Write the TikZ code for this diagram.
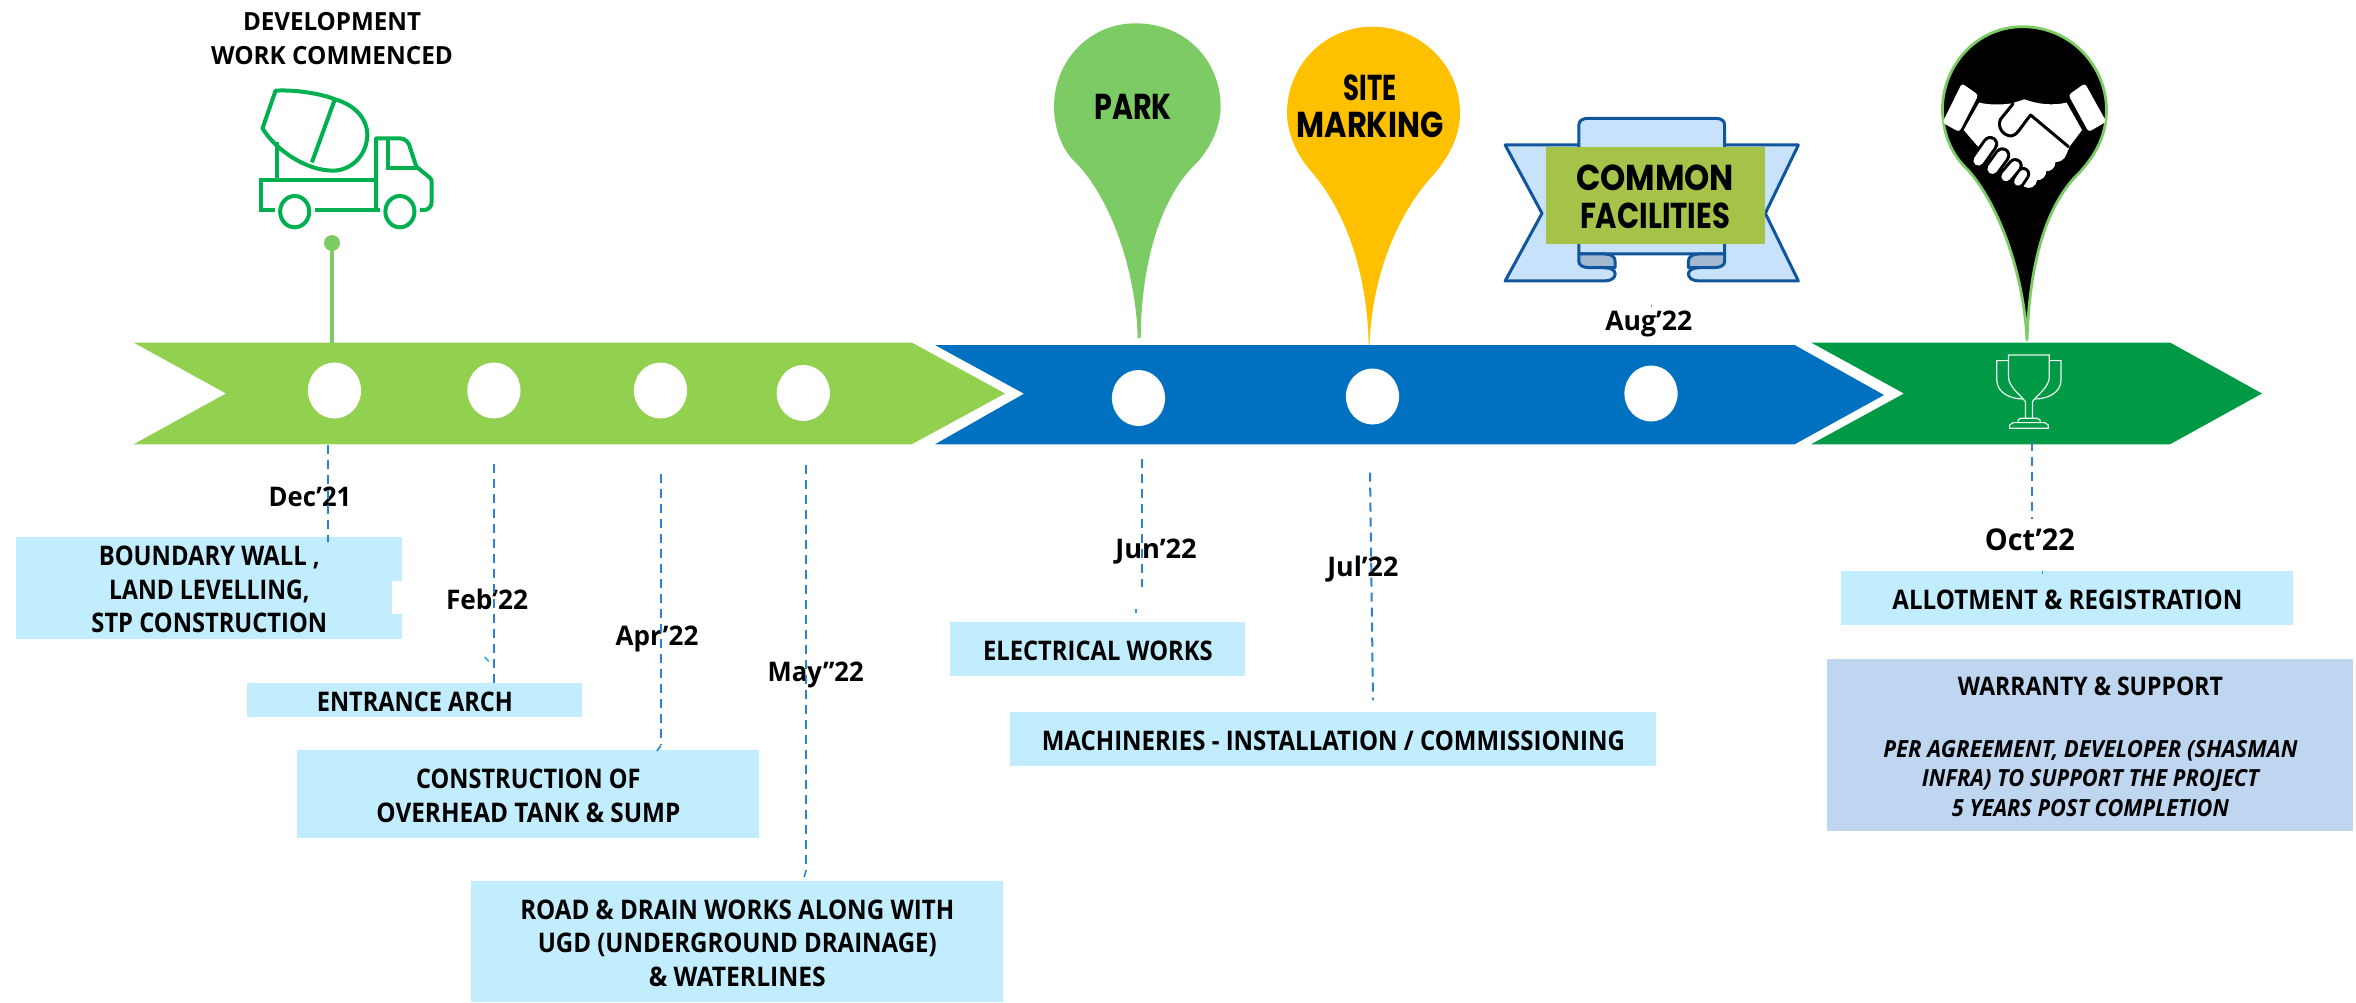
\documentclass[tikz,border=0pt]{standalone}
\usepackage{fontspec}
\setmainfont{Open Sans}
\newfontfamily\geofont{Poppins}
\usetikzlibrary{shapes.geometric}
\definecolor{arrowlime}{HTML}{92D050}
\definecolor{arrowblue}{HTML}{0070C0}
\definecolor{arrowgreen}{HTML}{009A46}
\definecolor{pingreen}{HTML}{7CCB65}
\definecolor{pinamber}{HTML}{FFC000}
\definecolor{truckgreen}{HTML}{00B050}
\definecolor{dashblue}{HTML}{2F80D2}
\definecolor{boxcyan}{HTML}{C1EDFE}
\definecolor{boxblue}{HTML}{BFD6F0}
\definecolor{ribbonline}{HTML}{11559C}
\definecolor{ribbonfill}{HTML}{C9E2FB}
\definecolor{ribbongrey}{HTML}{A3B9D1}
\definecolor{olive}{HTML}{A5C249}
\newsavebox\fitbox
\newcommand{\fitw}[2]{\sbox\fitbox{#2}\pgfmathsetmacro\fitscale{#1*0.5/\the\wd\fitbox}\raisebox{-0.7pt}[\height][\depth]{\scalebox{\fitscale}[1]{\usebox\fitbox}}}
\tikzset{
  hole/.style={ellipse,fill=white,inner sep=0pt,minimum width=26.6pt,minimum height=28pt},
  milestone/.style={font=\fontsize{13.5}{16}\selectfont\bfseries,inner sep=0pt,text=black},
  cyanbox/.style={fill=boxcyan,inner sep=0pt,align=center,anchor=north west,text=black,font=\fontsize{13.5}{16.75}\selectfont\bfseries},
  head/.style={font=\fontsize{12.5}{17}\selectfont\bfseries,align=center,inner sep=0pt,text=black},
  geo/.style={font=\geofont\fontsize{18}{18.7}\selectfont\bfseries,align=center,inner sep=0pt,text=black},
  dashline/.style={draw=dashblue,line width=1pt,dash pattern=on 4.5pt off 3pt},
  truckline/.style={draw=truckgreen,line width=2pt},
  ribbon/.style={draw=ribbonline,line width=1.5pt,line join=round},
}
\begin{document}
\begin{tikzpicture}[x=0.5pt,y=-0.5pt]
\useasboundingbox (0,0) rectangle (2356,1002);
% arrows
\fill[arrowlime] (133.5,342.5) -- (911.7,342.5) -- (1005,393.5) -- (911.7,444.3) -- (133.5,444.3) -- (226,393.5) -- cycle;
\fill[arrowblue] (935,345) -- (1794.6,345) -- (1884,395) -- (1794.6,444.3) -- (935,444.3) -- (1024,393.7) -- cycle;
\fill[arrowgreen] (1811,342.5) -- (2170,342.5) -- (2262,393.5) -- (2170,444.3) -- (1811,444.3) -- (1904,393.5) -- cycle;
% holes
\node[hole] (c1) at (334.5,390.5) {};
\node[hole] (c2) at (493.9,390.5) {};
\node[hole] (c3) at (660.5,390.5) {};
\node[hole] (c4) at (803.3,393) {};
\node[hole] (c5) at (1138.5,398) {};
\node[hole] (c6) at (1372.5,396.5) {};
\node[hole] (c7) at (1651,393.5) {};
% boxes
\node[cyanbox,minimum width=193.1pt,minimum height=51pt] (b1) at (15.8,537) {\fitw{221}{BOUNDARY WALL ,}\\\fitw{200.5}{LAND LEVELLING,}\\\fitw{235.7}{STP CONSTRUCTION}};
\fill[white] (392,581) rectangle (402,614);
\node[cyanbox,minimum width=167.5pt,minimum height=17pt] (b2) at (247,683) {\fitw{196}{ENTRANCE ARCH}};
\node[cyanbox,minimum width=231pt,minimum height=44pt] (b3) at (297,750) {\fitw{224.5}{CONSTRUCTION OF}\\\fitw{304}{OVERHEAD TANK \& SUMP}};
\node[cyanbox,minimum width=265.9pt,minimum height=60.5pt] (b4) at (471,881) {\fitw{434}{ROAD \& DRAIN WORKS ALONG WITH}\\\fitw{399}{UGD (UNDERGROUND DRAINAGE)}\\\fitw{177}{\& WATERLINES}};
\node[cyanbox,minimum width=147.5pt,minimum height=27pt] (b5) at (950,622) {\fitw{229.6}{ELECTRICAL WORKS}};
\node[cyanbox,minimum width=323pt,minimum height=27pt] (b6) at (1010,712) {\fitw{583}{MACHINERIES - INSTALLATION / COMMISSIONING}};
\node[cyanbox,minimum width=226pt,minimum height=27pt] (b7) at (1841,571) {\fitw{350}{ALLOTMENT \& REGISTRATION}};
\node[cyanbox,fill=boxblue,minimum width=263pt,minimum height=85.8pt,font=\fontsize{11.8}{14.75}\selectfont\bfseries] (b8) at (1827,659) {\fitw{265}{\fontsize{12.8}{14}\selectfont WARRANTY \& SUPPORT}\\[16pt]\itshape\fitw{414}{PER AGREEMENT, DEVELOPER (SHASMAN}\\\itshape\fitw{337}{INFRA) TO SUPPORT THE PROJECT}\\\itshape\fitw{277}{5 YEARS POST COMPLETION}};
% dates
\node[milestone] (dec) at (310,495.6) {\fitw{82.6}{Dec’21}};
\node[milestone] (feb) at (487,597.7) {\fitw{82}{Feb’22}};
\node[milestone] (apr) at (657,638) {\fitw{82.7}{Apr’22}};
\node[milestone] (may) at (815.7,674) {\fitw{96}{May”22}};
\node[milestone] (jun) at (1156,550) {\fitw{81.5}{Jun’22}};
\node[milestone] (jul) at (1362.8,567.7) {\fitw{71}{Jul’22}};
\node[milestone] (aug) at (1648.8,323) {\fitw{87}{Aug’22}};
\node[milestone,font=\fontsize{15}{16}\selectfont\bfseries] (oct) at (2029.8,538) {\fitw{90}{Oct’22}};
% dashed connectors
\coordinate (d1a) at (327.5,444.7); \coordinate (d1b) at (327.5,542);
\coordinate (d2a) at (494,464); \coordinate (d2b) at (494,683);
\coordinate (d3a) at (660.7,474); \coordinate (d3b) at (660.7,744.7); \coordinate (d3c) at (657,751);
\coordinate (d4a) at (806,464.5); \coordinate (d4b) at (806,871); \coordinate (d4c) at (804,877);
\coordinate (d5a) at (1141.7,459); \coordinate (d5b) at (1141.7,587);
\coordinate (d6a) at (1370,472.7); \coordinate (d6b) at (1373,700);
\coordinate (d7a) at (2031.7,441.7); \coordinate (d7b) at (2031.7,519);
\draw[dashline] (d1a) -- (d1b);
\draw[dashline] (d2a) -- (d2b);
\draw[dashline] (d3a) -- (d3b);
\draw[draw=dashblue,line width=.8pt] (d3b) ++(0,1) -- (d3c);
\draw[dashline] (d4a) -- (d4b);
\draw[draw=dashblue,line width=.8pt] (d4b) -- (d4c);
\draw[dashline] (d5a) -- (d5b);
\draw[dashline] (d6a) -- (d6b);
\draw[dashline] (d7a) -- (d7b);
% stray specks
\coordinate (s1) at (1136,609); \coordinate (s1e) at (1136,613);
\coordinate (s2) at (2042.7,570.5); \coordinate (s2e) at (2042.7,573.5);
\coordinate (s3) at (1651.5,304.5); \coordinate (s3e) at (1651.5,306.5);
\coordinate (s4) at (484.7,657); \coordinate (s4e) at (488.8,661.5);
\foreach \a/\b in {s1/s1e,s2/s2e,s3/s3e,s4/s4e} \draw[draw=dashblue!70!cyan,line width=.7pt] (\a) -- (\b);
% start stem
\node[ellipse,fill=pingreen,inner sep=0pt,minimum width=8pt,minimum height=8pt] (dot) at (332,243) {};
\coordinate (stemend) at (332,342.5);
\draw[pingreen,line width=1.8pt] (dot.center) -- (stemend);
\node[head] (dev) at (332,37) {\fitw{178}{DEVELOPMENT}\\\fitw{242}{WORK COMMENCED}};
% truck
\begin{scope}[shift={(0,0)},xscale=0.3827,yscale=0.3333]
\draw[truckline,line join=round] (720,272) .. controls (780,268) and (850,285) .. (875,298) .. controls (930,315) and (960,360) .. (960,405) .. controls (958,470) and (915,512) .. (870,512) .. controls (800,512) and (720,450) .. (686,385) -- cycle;
\draw[truckline] (875,298) -- (815,487);
\draw[truckline] (725,425) -- (725,540);
\draw[truckline] (718,630) -- (682,630) -- (682,540) -- (985,540);
\draw[truckline] (822,630) -- (992,630);
\draw[truckline,line join=round] (983,630) -- (983,415) -- (1045,415) .. controls (1060,415) and (1070,430) .. (1072,445) -- (1088,500) -- (1122,532) .. controls (1127,537) and (1128,540) .. (1128,548) -- (1128,605) .. controls (1128,622) and (1118,630) .. (1108,630) -- (1097,630);
\draw[truckline] (1013,415) -- (1013,505) -- (1090,505);
\draw[truckline] (770,635) ellipse (38 and 47);
\draw[truckline] (1045,635) ellipse (38 and 47);
\end{scope}
% pins
\fill[pingreen] (1137.7,338) .. controls (1136,270) and (1110,195) .. (1073,160) .. controls (1060,146) and (1054,125) .. (1054,107) .. controls (1054,60) and (1090,23.3) .. (1135.5,23.3) .. controls (1185,23.3) and (1220.6,60) .. (1220.6,107) .. controls (1220.6,125) and (1212,146) .. (1196.7,163) .. controls (1160,197) and (1141,265) .. (1140.7,338) -- cycle;
\fill[pinamber] (1368.7,345) .. controls (1367,270) and (1345,210) .. (1310,170) .. controls (1297,155) and (1287,133) .. (1287,113) .. controls (1287,65) and (1325,26.7) .. (1372.4,26.7) .. controls (1420,26.7) and (1460,65) .. (1460,113) .. controls (1460,135) and (1450,155) .. (1435,173) .. controls (1398,212) and (1372,275) .. (1369.5,345) -- cycle;
\node[geo] (park) at (1133,105.7) {\fitw{77.5}{PARK}};
\node[geo] (site) at (1370,105) {\fitw{53}{SITE}\\\fitw{147}{MARKING}};
% handshake pin
\draw[draw=pingreen,fill=black,line width=1.4pt,line join=round] (2027,340) .. controls (2023,265) and (1995,200) .. (1968,170) .. controls (1952,155) and (1943,135) .. (1942.4,110) .. controls (1942.4,65) and (1977,26.7) .. (2022.5,26.7) .. controls (2070,26.7) and (2106.2,65) .. (2106.5,110) .. controls (2106,135) and (2097,153) .. (2080,172) .. controls (2045,205) and (2029.5,265) .. (2027,340) -- cycle;
\begin{scope}[shift={(1780,0)},xscale=0.3674,yscale=0.3333]
\fill[white,rounded corners=1.5pt] (495,250) -- (540,285) -- (488,396) -- (442,368) -- cycle;
\fill[white,rounded corners=1.5pt] (830,250) -- (785,285) -- (840,396) -- (888,365) -- cycle;
\fill[white] (542,308) .. controls (570,315) and (600,315) .. (632,310) -- (665,298) .. controls (700,312) and (740,318) .. (780,308) -- (822,390) -- (788,440) -- (780,462) .. controls (775,482) and (755,488) .. (750,486) .. controls (750,505) and (735,515) .. (725,513) .. controls (725,530) and (712,542) .. (700,540) .. controls (697,560) and (680,570) .. (665,560) -- (535,435) -- (500,390) -- cycle;
\draw[black,line width=1.5pt,line join=round,line cap=round] (634,312) -- (600,358) .. controls (590,385) and (610,408) .. (630,408) .. controls (645,405) and (650,390) .. (682,345) -- (785,440);
\foreach \xa/\ya/\xb/\yb/\w in {572/432/540/482/5,605/466/578/507/5,640/497/615/530/4.6,662/522/648/545/4}{
  \draw[black,line width=\w pt+3pt,line cap=round] (\xa,\ya) -- (\xb,\yb);
}
\foreach \xa/\ya/\xb/\yb/\w in {572/432/540/482/5,605/466/578/507/5,640/497/615/530/4.6,662/522/648/545/4}{
  \draw[white,line width=\w pt,line cap=round] (\xa,\ya) -- (\xb,\yb);
}
% trophy
\begin{scope}[draw=white!92!arrowgreen,line width=.6pt]
\draw (668,1255) -- (668,1205) .. controls (650,1180) and (622,1160) .. (622,1130) -- (622,1065) -- (733,1065) -- (733,1130) .. controls (733,1160) and (705,1180) .. (687,1205) -- (687,1255);
\draw (622,1082) -- (590,1082) -- (590,1140) .. controls (590,1180) and (630,1197) .. (660,1197);
\draw (733,1082) -- (765,1082) -- (765,1140) .. controls (765,1180) and (725,1197) .. (695,1197);
\draw (648,1268) -- (648,1260) -- (655,1255) -- (700,1255) -- (708,1260) -- (708,1268);
\draw (625,1285) -- (625,1275) -- (635,1268) -- (720,1268) -- (730,1275) -- (730,1285) -- cycle;
\end{scope}
\end{scope}
% ribbon
\begin{scope}[shift={(1000,0)},xscale=0.542,yscale=0.3333]
\path[ribbon,fill=ribbonfill] (1068,435) -- (932,435) -- (1000,640) -- (932,843) -- (1115,843) .. controls (1128,843) and (1135,833) .. (1135,822) .. controls (1135,812) and (1128,803) .. (1115,803) -- (1115,600) -- (1290,600) -- (1290,803) .. controls (1277,803) and (1270,812) .. (1270,822) .. controls (1270,833) and (1277,843) .. (1290,843) -- (1473,843) -- (1412,640) -- (1473,435) -- (1337,435) -- cycle;
\path[ribbon,fill=ribbonfill] (1068,762) -- (1068,375) .. controls (1068,362) and (1075,355) .. (1085,355) -- (1320,355) .. controls (1330,355) and (1337,362) .. (1337,375) -- (1337,762) -- cycle;
\path[ribbon,fill=ribbongrey] (1068,762) -- (1115,762) .. controls (1128,762) and (1135,770) .. (1135,785) -- (1135,803) -- (1088,803) .. controls (1075,803) and (1068,795) .. (1068,785) -- cycle;
\path[ribbon,fill=ribbongrey] (1337,762) -- (1290,762) .. controls (1277,762) and (1270,770) .. (1270,785) -- (1270,803) -- (1317,803) .. controls (1330,803) and (1337,795) .. (1337,785) -- cycle;
\fill[olive] (1007,441) rectangle (1411,732);
\end{scope}
\node[geo] (common) at (1655,195.5) {\fitw{158}{COMMON}\\\fitw{150}{FACILITIES}};
\end{tikzpicture}
\end{document}
